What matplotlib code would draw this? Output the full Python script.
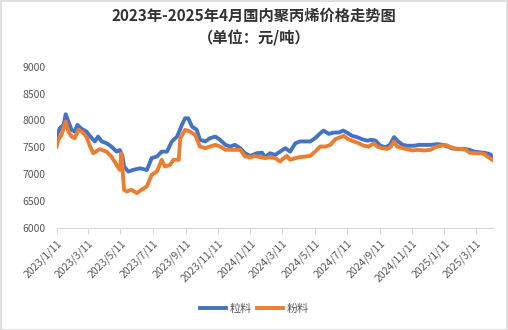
import pandas as pd
import matplotlib.pyplot as plt
from matplotlib.patches import Rectangle

plt.rcParams['font.family'] = ['Noto Sans CJK SC', 'DejaVu Sans']

# 粒料 (blue)
dates_li = ['2023-01-11', '2023-01-17', '2023-01-24', '2023-01-28', '2023-02-02', '2023-02-08',
            '2023-02-14', '2023-02-19', '2023-02-27', '2023-03-08', '2023-03-18', '2023-03-24',
            '2023-03-30', '2023-04-06', '2023-04-15', '2023-04-24', '2023-05-04', '2023-05-10',
            '2023-05-15', '2023-05-18', '2023-05-26', '2023-06-04', '2023-06-17', '2023-06-30',
            '2023-07-09', '2023-07-19', '2023-07-28', '2023-08-07', '2023-08-16', '2023-08-26',
            '2023-09-04', '2023-09-10', '2023-09-16', '2023-09-23', '2023-10-02', '2023-10-08',
            '2023-10-18', '2023-10-27', '2023-11-06', '2023-11-15', '2023-11-25', '2023-12-04',
            '2023-12-13', '2023-12-23', '2024-01-01', '2024-01-11', '2024-01-23', '2024-02-02',
            '2024-02-08', '2024-02-17', '2024-02-27', '2024-03-07', '2024-03-17', '2024-03-26',
            '2024-04-05', '2024-04-14', '2024-04-24', '2024-05-03', '2024-05-12', '2024-05-22',
            '2024-05-28', '2024-06-07', '2024-06-16', '2024-06-26', '2024-07-04', '2024-07-11',
            '2024-07-21', '2024-07-30', '2024-08-09', '2024-08-18', '2024-08-27', '2024-09-03',
            '2024-09-12', '2024-09-22', '2024-09-30', '2024-10-08', '2024-10-14', '2024-10-24',
            '2024-11-02', '2024-11-15', '2024-11-24', '2024-12-04', '2024-12-16', '2024-12-29',
            '2025-01-07', '2025-01-17', '2025-01-26', '2025-02-05', '2025-02-17', '2025-02-27',
            '2025-03-08', '2025-03-17', '2025-03-26', '2025-04-05', '2025-04-11']
li = [7720, 7856, 7918, 8115, 7980, 7825, 7795, 7918, 7843, 7795, 7670, 7610,
      7700, 7610, 7577, 7515, 7420, 7450, 7330, 7144, 7050, 7080, 7110, 7080,
      7300, 7330, 7420, 7420, 7610, 7700, 7918, 8040, 8040, 7887, 7825, 7640,
      7610, 7670, 7700, 7640, 7546, 7515, 7546, 7485, 7390, 7340, 7390, 7400,
      7318, 7390, 7360, 7420, 7485, 7420, 7577, 7610, 7610, 7610, 7670, 7763,
      7812, 7750, 7775, 7775, 7812, 7775, 7713, 7690, 7650, 7625, 7640, 7625,
      7530, 7503, 7546, 7690, 7625, 7546, 7530, 7530, 7546, 7546, 7546, 7560,
      7546, 7515, 7478, 7472, 7472, 7454, 7420, 7410, 7400, 7380, 7340]

# 粉料 (orange)
dates_fen = ['2023-01-11', '2023-01-14', '2023-01-20', '2023-01-28', '2023-02-02', '2023-02-08',
             '2023-02-14', '2023-02-21', '2023-02-27', '2023-03-08', '2023-03-15', '2023-03-21',
             '2023-04-02', '2023-04-15', '2023-04-24', '2023-05-04', '2023-05-10', '2023-05-13',
             '2023-05-18', '2023-05-23', '2023-06-01', '2023-06-11', '2023-06-20', '2023-06-30',
             '2023-07-09', '2023-07-19', '2023-07-28', '2023-08-03', '2023-08-13', '2023-08-19',
             '2023-08-29', '2023-09-01', '2023-09-10', '2023-09-19', '2023-09-29', '2023-10-08',
             '2023-10-18', '2023-10-27', '2023-11-06', '2023-11-15', '2023-11-25', '2023-12-04',
             '2023-12-13', '2023-12-23', '2024-01-01', '2024-01-11', '2024-01-20', '2024-01-30',
             '2024-02-08', '2024-02-17', '2024-02-27', '2024-03-07', '2024-03-14', '2024-03-20',
             '2024-03-26', '2024-04-05', '2024-04-14', '2024-04-24', '2024-05-03', '2024-05-12',
             '2024-05-22', '2024-06-01', '2024-06-10', '2024-06-19', '2024-06-29', '2024-07-05',
             '2024-07-14', '2024-07-24', '2024-08-02', '2024-08-12', '2024-08-21', '2024-08-31',
             '2024-09-06', '2024-09-15', '2024-09-25', '2024-10-01', '2024-10-08', '2024-10-14',
             '2024-10-24', '2024-11-02', '2024-11-12', '2024-11-21', '2024-12-04', '2024-12-16',
             '2024-12-25', '2025-01-04', '2025-01-13', '2025-01-23', '2025-02-02', '2025-02-11',
             '2025-02-20', '2025-02-27', '2025-03-08', '2025-03-17', '2025-03-26', '2025-04-02',
             '2025-04-11']
fen = [7515, 7640, 7730, 7980, 7795, 7700, 7670, 7825, 7795, 7700, 7515, 7390,
       7466, 7420, 7330, 7175, 7080, 7390, 6711, 6680, 6711, 6650, 6711, 6773,
       6990, 7050, 7268, 7144, 7175, 7268, 7268, 7670, 7825, 7795, 7730, 7515,
       7485, 7515, 7546, 7515, 7454, 7454, 7454, 7454, 7330, 7318, 7340, 7318,
       7300, 7318, 7300, 7237, 7300, 7340, 7268, 7300, 7318, 7330, 7340, 7420,
       7515, 7515, 7546, 7650, 7690, 7713, 7650, 7610, 7577, 7530, 7515, 7577,
       7515, 7485, 7472, 7503, 7610, 7515, 7485, 7466, 7441, 7454, 7441, 7454,
       7503, 7530, 7546, 7503, 7472, 7472, 7454, 7400, 7390, 7390, 7380, 7330,
       7268]

tick_dates = ['2023-01-11', '2023-03-11', '2023-05-11', '2023-07-11', '2023-09-11', '2023-11-11',
              '2024-01-11', '2024-03-11', '2024-05-11', '2024-07-11', '2024-09-11', '2024-11-11',
              '2025-01-11', '2025-03-11']

fig = plt.figure(figsize=(5.08, 3.30), dpi=100)
fig.patches.append(Rectangle((0.001, 0.001), 0.997, 0.996, transform=fig.transFigure,
                             fill=False, edgecolor='#D9D9D9', linewidth=1.2))
ax = fig.add_axes([0.1116, 0.309, 0.8584, 0.489])

ax.plot(pd.to_datetime(dates_li), li, color='#4472C4', linewidth=2.8, label='粒料')
ax.plot(pd.to_datetime(dates_fen), fen, color='#ED7D31', linewidth=2.8, label='粉料')

ax.set_ylim(6000, 9000)
ax.set_yticks(range(6000, 9001, 500))
ax.set_xlim(pd.Timestamp('2023-01-11'), pd.Timestamp('2025-04-12'))
ticks = pd.to_datetime(tick_dates)
ax.set_xticks(ticks)
ax.set_xticklabels([f'{d.year}/{d.month}/{d.day}' for d in ticks], rotation=45,
                   ha='right', rotation_mode='anchor')

for s in ['left', 'right', 'top']:
    ax.spines[s].set_visible(False)
ax.spines['bottom'].set_color('#D9D9D9')
ax.tick_params(axis='y', length=0, pad=8, labelsize=7.5, labelcolor='#595959')
ax.tick_params(axis='x', length=4, color='#D9D9D9', labelsize=7.5, labelcolor='#595959', pad=3)

fig.text(0.5, 0.952, '2023年-2025年4月国内聚丙烯价格走势图', ha='center', va='center',
         fontsize=11, fontweight='bold', color='#333333')
fig.text(0.5, 0.885, '（单位：元/吨）', ha='center', va='center',
         fontsize=11, fontweight='bold', color='#333333')

fig.legend(loc='center', bbox_to_anchor=(0.5, 0.063), ncol=2, frameon=False,
           fontsize=8, handlelength=2.4, columnspacing=0.45, handletextpad=0.27,
           labelcolor='#595959')

fig.savefig('out.png', dpi=100)
